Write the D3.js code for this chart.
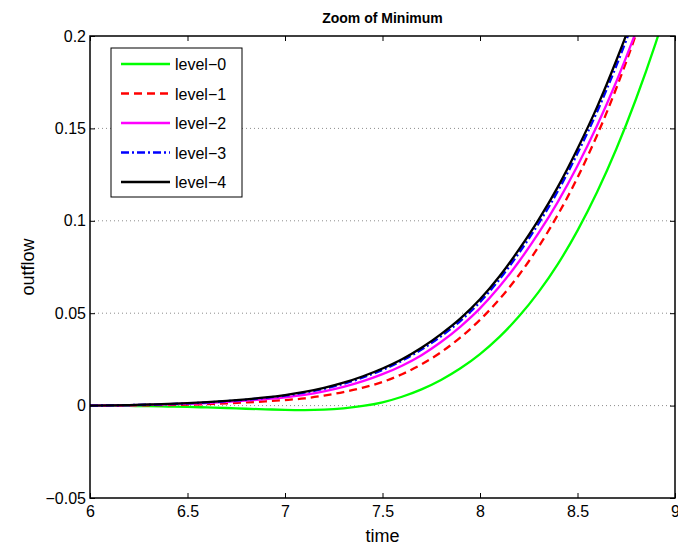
<!DOCTYPE html>
<html>
<head>
<meta charset="utf-8">
<script src="https://cdn.jsdelivr.net/npm/d3@7"></script>
<style>
body { margin: 0; background: #fff; }
text { font-family: "Liberation Sans", Arial, sans-serif; }
</style>
</head>
<body>
<svg id="chart" width="678" height="548"></svg>
<script>
// data
var times = [6.0, 6.1, 6.2, 6.3, 6.4, 6.5, 6.6, 6.7, 6.8, 6.9, 7.0, 7.1, 7.2, 7.3, 7.4, 7.5,
	7.6, 7.7, 7.8, 7.9, 8.0, 8.1, 8.2, 8.3, 8.4, 8.5, 8.6, 8.7, 8.8, 8.9, 9.0];
var level0 = [0, -0.0001, -0.0002, -0.0003, -0.0005, -0.0007, -0.0010, -0.0013, -0.0017, -0.0020, -0.0023,
	-0.0024, -0.0022, -0.0015, -0.0002, 0.0018, 0.0048, 0.0088, 0.0139, 0.0202, 0.0279,
	0.0372, 0.0483, 0.0614, 0.0767, 0.0947, 0.1154, 0.1391, 0.1659, 0.1959, 0.2293];
var level1 = [0, 0.0000, 0.0001, 0.0002, 0.0003, 0.0005, 0.0008, 0.0012, 0.0017, 0.0023, 0.0030,
	0.0039, 0.0054, 0.0073, 0.0097, 0.0128, 0.0170, 0.0223, 0.0289, 0.0369, 0.0464,
	0.0576, 0.0707, 0.0859, 0.1034, 0.1234, 0.1462, 0.1720, 0.2010, 0.2335, 0.2695];
var level2 = [0, 0.0001, 0.0002, 0.0004, 0.0007, 0.0010, 0.0014, 0.0020, 0.0027, 0.0035, 0.0045,
	0.0058, 0.0077, 0.0101, 0.0132, 0.0170, 0.0216, 0.0273, 0.0344, 0.0428, 0.0526,
	0.0644, 0.0780, 0.0933, 0.1104, 0.1298, 0.1514, 0.1755, 0.2024, 0.2321, 0.2647];
var level3 = [0, 0.0001, 0.0003, 0.0005, 0.0008, 0.0012, 0.0017, 0.0024, 0.0032, 0.0042, 0.0054,
	0.0070, 0.0091, 0.0118, 0.0152, 0.0193, 0.0243, 0.0303, 0.0375, 0.0459, 0.0560,
	0.0683, 0.0826, 0.0984, 0.1162, 0.1365, 0.1589, 0.1841, 0.2120, 0.2428, 0.2765];
var level4 = [0, 0.0001, 0.0003, 0.0006, 0.0009, 0.0013, 0.0019, 0.0026, 0.0034, 0.0044, 0.0057,
	0.0074, 0.0096, 0.0124, 0.0159, 0.0201, 0.0251, 0.0313, 0.0387, 0.0472, 0.0575,
	0.0700, 0.0845, 0.1005, 0.1185, 0.1390, 0.1615, 0.1870, 0.2150, 0.2460, 0.2800];

var seriesNames = ["level\u22120", "level\u22121", "level\u22122", "level\u22123", "level\u22124"];
var seriesValues = [level0, level1, level2, level3, level4];
var seriesColors = ["#00ff00", "#ff0000", "#ff00ff", "#0000ff", "#000000"];
var seriesDash = [null, "8,5", null, "8,3,2,3", null];

var xTicks = [6, 6.5, 7, 7.5, 8, 8.5, 9];
var yTicks = [-0.05, 0, 0.05, 0.1, 0.15, 0.2];
var yGrid = [0, 0.05, 0.1, 0.15];

var svg = d3.select("#chart");
var plotL = 90, plotR = 675, plotT = 36, plotB = 498;

var x = d3.scaleLinear().domain([6, 9]).range([plotL, plotR]);
var y = d3.scaleLinear().domain([-0.05, 0.2]).range([plotB, plotT]);

var fmt = function(d) { return d < 0 ? "\u2212" + String(-d) : String(d); };

svg.append("defs").append("clipPath").attr("id", "plotclip")
	.append("rect").attr("x", plotL).attr("y", plotT).attr("width", plotR - plotL).attr("height", plotB - plotT);

// grid
svg.append("g").selectAll("line").data(yGrid).enter().append("line")
	.attr("x1", plotL).attr("x2", plotR)
	.attr("y1", function(d) { return y(d); }).attr("y2", function(d) { return y(d); })
	.attr("stroke", "#8c8c8c").attr("stroke-width", 1).attr("stroke-dasharray", "1,3");

// axes with inward ticks
var tickLen = 5;
svg.append("g").attr("transform", "translate(0," + plotB + ")")
	.call(d3.axisBottom(x).tickValues(xTicks).tickSize(-tickLen).tickPadding(8).tickFormat(fmt))
	.call(function(g) { g.select(".domain").remove(); })
	.selectAll("text").attr("font-size", 16).attr("fill", "#000").attr("font-family", "Liberation Sans, Arial, sans-serif");
svg.append("g").attr("transform", "translate(0," + plotT + ")")
	.call(d3.axisTop(x).tickValues(xTicks).tickSize(-tickLen).tickFormat(""))
	.call(function(g) { g.select(".domain").remove(); });
svg.append("g").attr("transform", "translate(" + plotL + ",0)")
	.call(d3.axisLeft(y).tickValues(yTicks).tickSize(-tickLen).tickPadding(4).tickFormat(fmt))
	.call(function(g) { g.select(".domain").remove(); })
	.selectAll("text").attr("font-size", 16).attr("fill", "#000").attr("font-family", "Liberation Sans, Arial, sans-serif");
svg.append("g").attr("transform", "translate(" + plotR + ",0)")
	.call(d3.axisRight(y).tickValues(yTicks).tickSize(-tickLen).tickFormat(""))
	.call(function(g) { g.select(".domain").remove(); });
svg.selectAll(".tick line").attr("stroke", "#000");

// curves
var line = d3.line()
	.x(function(d, i) { return x(times[i]); })
	.y(function(d) { return y(d); })
	.curve(d3.curveMonotoneX);

svg.append("g").attr("clip-path", "url(#plotclip)")
	.selectAll("path").data(seriesValues).enter().append("path")
	.attr("d", line)
	.attr("fill", "none")
	.attr("stroke", function(d, i) { return seriesColors[i]; })
	.attr("stroke-width", 2.3)
	.attr("stroke-dasharray", function(d, i) { return seriesDash[i]; });

// box
svg.append("rect").attr("x", plotL).attr("y", plotT).attr("width", plotR - plotL).attr("height", plotB - plotT)
	.attr("fill", "none").attr("stroke", "#000").attr("stroke-width", 1.5);

// labels
svg.append("text").attr("x", (plotL + plotR) / 2).attr("y", 23).attr("text-anchor", "middle")
	.attr("font-size", 14).attr("font-weight", "bold").text("Zoom of Minimum");
svg.append("text").attr("x", (plotL + plotR) / 2).attr("y", 542).attr("text-anchor", "middle")
	.attr("font-size", 18).text("time");
svg.append("text").attr("transform", "translate(34," + (plotT + plotB) / 2 + ") rotate(-90)")
	.attr("text-anchor", "middle").attr("font-size", 18).text("outflow");

// legend
var legend = svg.append("g");
legend.append("rect").attr("x", 111).attr("y", 48).attr("width", 131).attr("height", 149)
	.attr("fill", "#fff").attr("stroke", "#000").attr("stroke-width", 1);
var items = legend.selectAll("g.item").data(seriesNames).enter().append("g")
	.attr("transform", function(d, i) { return "translate(0," + (64 + i * 29.5) + ")"; });
items.append("line").attr("x1", 121).attr("x2", 170).attr("y1", 0).attr("y2", 0)
	.attr("stroke", function(d, i) { return seriesColors[i]; })
	.attr("stroke-width", 2.3)
	.attr("stroke-dasharray", function(d, i) { return seriesDash[i]; });
items.append("text").attr("x", 175).attr("y", 6).attr("font-size", 16).text(function(d) { return d; });
</script>
</body>
</html>
